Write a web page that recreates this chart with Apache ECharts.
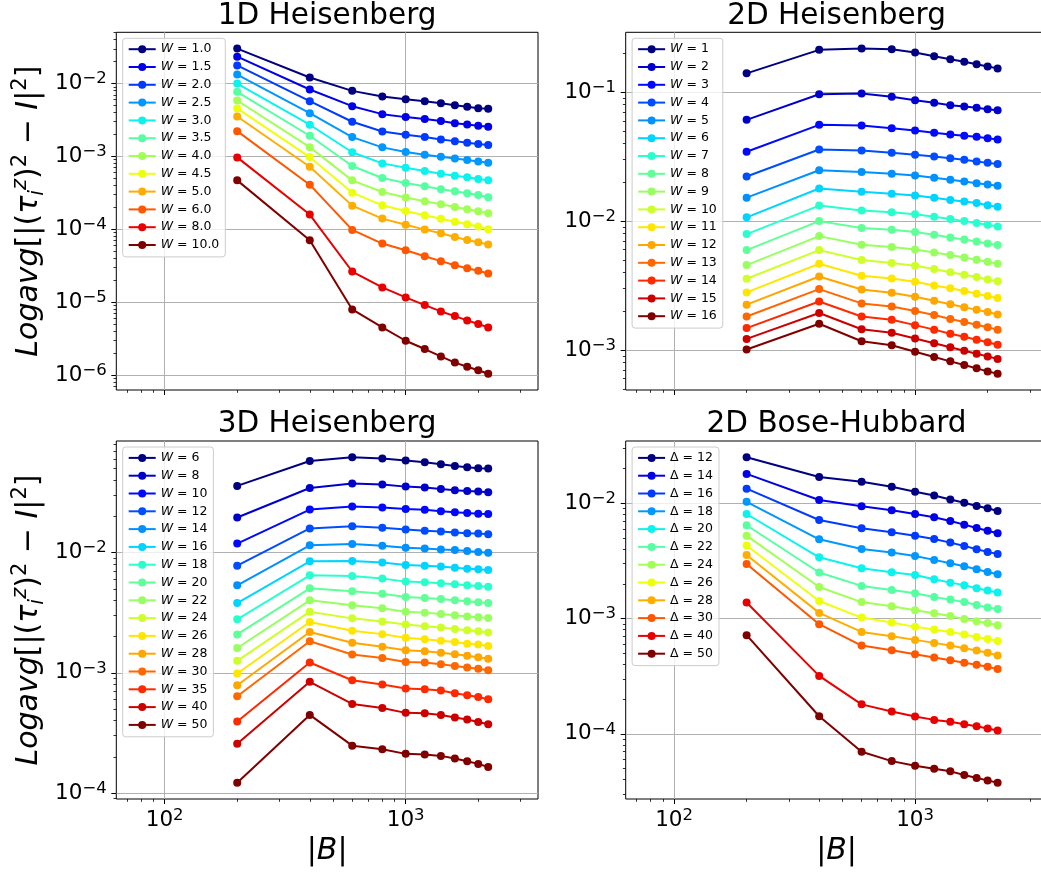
<!DOCTYPE html>
<html>
<head>
<meta charset="utf-8">
<script src="https://cdn.jsdelivr.net/npm/echarts@6/dist/echarts.min.js"></script>
<style>
  html, body { margin: 0; padding: 0; background: #fff; overflow: hidden; }
  #chart { width: 1060px; height: 872px; }
</style>
</head>
<body>
<div id="chart"></div>
<script>
// system sizes |B| (shared x values)
const sizes = [200, 400, 600, 800, 1000, 1200, 1400, 1600, 1800, 2000, 2200];

// 1D Heisenberg
const heis1dLabels = ['1.0', '1.5', '2.0', '2.5', '3.0', '3.5', '4.0', '4.5', '5.0', '6.0', '8.0', '10.0'];
const heis1dValues = [
  [3.02e-2, 1.21e-2, 7.93e-3, 6.64e-3, 6.10e-3, 5.73e-3, 5.38e-3, 5.05e-3, 4.79e-3, 4.59e-3, 4.50e-3],
  [2.34e-2, 8.28e-3, 4.89e-3, 3.80e-3, 3.46e-3, 3.25e-3, 3.05e-3, 2.86e-3, 2.74e-3, 2.63e-3, 2.55e-3],
  [1.77e-2, 5.73e-3, 2.99e-3, 2.20e-3, 1.98e-3, 1.84e-3, 1.71e-3, 1.62e-3, 1.54e-3, 1.48e-3, 1.43e-3],
  [1.33e-2, 3.92e-3, 1.84e-3, 1.33e-3, 1.15e-3, 1.05e-3, 9.89e-4, 9.39e-4, 8.91e-4, 8.54e-4, 8.19e-4],
  [1.00e-2, 2.72e-3, 1.14e-3, 8.02e-4, 7.00e-4, 6.30e-4, 5.79e-4, 5.43e-4, 5.16e-4, 4.89e-4, 4.69e-4],
  [7.69e-3, 1.92e-3, 7.37e-4, 5.05e-4, 4.31e-4, 3.88e-4, 3.53e-4, 3.32e-4, 3.11e-4, 2.95e-4, 2.75e-4],
  [5.85e-3, 1.34e-3, 4.69e-4, 3.25e-4, 2.72e-4, 2.42e-4, 2.20e-4, 2.02e-4, 1.88e-4, 1.77e-4, 1.66e-4],
  [4.55e-3, 9.79e-4, 3.18e-4, 2.13e-4, 1.78e-4, 1.56e-4, 1.39e-4, 1.27e-4, 1.17e-4, 1.09e-4, 1.00e-4],
  [3.53e-3, 7.22e-4, 2.11e-4, 1.40e-4, 1.15e-4, 9.89e-5, 8.82e-5, 7.85e-5, 7.14e-5, 6.64e-5, 6.17e-5],
  [2.22e-3, 4.09e-4, 9.79e-5, 6.36e-5, 5.16e-5, 4.27e-5, 3.65e-5, 3.21e-5, 2.92e-5, 2.69e-5, 2.47e-5],
  [9.69e-4, 1.59e-4, 2.63e-5, 1.59e-5, 1.16e-5, 9.10e-6, 7.45e-6, 6.43e-6, 5.61e-6, 5.00e-6, 4.50e-6],
  [4.69e-4, 7.07e-5, 7.93e-6, 4.50e-6, 2.95e-6, 2.27e-6, 1.80e-6, 1.48e-6, 1.30e-6, 1.16e-6, 1.04e-6]
];

// 2D Heisenberg
const heis2dLabels = ['1', '2', '3', '4', '5', '6', '7', '8', '9', '10', '11', '12', '13', '14', '15', '16'];
const heis2dValues = [
  [0.140, 0.213, 0.218, 0.215, 0.203, 0.190, 0.180, 0.172, 0.165, 0.158, 0.153],
  [6.10e-2, 9.65e-2, 9.76e-2, 9.20e-2, 8.67e-2, 8.27e-2, 7.93e-2, 7.74e-2, 7.56e-2, 7.38e-2, 7.25e-2],
  [3.45e-2, 5.58e-2, 5.51e-2, 5.26e-2, 5.04e-2, 4.84e-2, 4.70e-2, 4.59e-2, 4.51e-2, 4.40e-2, 4.30e-2],
  [2.22e-2, 3.59e-2, 3.53e-2, 3.39e-2, 3.27e-2, 3.17e-2, 3.08e-2, 2.99e-2, 2.90e-2, 2.83e-2, 2.77e-2],
  [1.52e-2, 2.48e-2, 2.40e-2, 2.33e-2, 2.26e-2, 2.17e-2, 2.09e-2, 2.03e-2, 1.97e-2, 1.92e-2, 1.88e-2],
  [1.07e-2, 1.79e-2, 1.69e-2, 1.63e-2, 1.58e-2, 1.52e-2, 1.46e-2, 1.42e-2, 1.38e-2, 1.33e-2, 1.29e-2],
  [7.93e-3, 1.32e-2, 1.21e-2, 1.17e-2, 1.13e-2, 1.08e-2, 1.04e-2, 1.00e-2, 9.65e-3, 9.37e-3, 9.09e-3],
  [5.96e-3, 1.00e-2, 8.83e-3, 8.57e-3, 8.22e-3, 7.84e-3, 7.47e-3, 7.21e-3, 6.96e-3, 6.71e-3, 6.52e-3],
  [4.56e-3, 7.65e-3, 6.55e-3, 6.29e-3, 6.03e-3, 5.71e-3, 5.45e-3, 5.23e-3, 5.02e-3, 4.84e-3, 4.67e-3],
  [3.57e-3, 5.96e-3, 4.99e-3, 4.73e-3, 4.51e-3, 4.25e-3, 4.02e-3, 3.84e-3, 3.68e-3, 3.53e-3, 3.41e-3],
  [2.80e-3, 4.67e-3, 3.77e-3, 3.59e-3, 3.39e-3, 3.17e-3, 3.01e-3, 2.87e-3, 2.73e-3, 2.62e-3, 2.53e-3],
  [2.25e-3, 3.72e-3, 2.95e-3, 2.78e-3, 2.59e-3, 2.41e-3, 2.27e-3, 2.15e-3, 2.05e-3, 1.97e-3, 1.89e-3],
  [1.82e-3, 2.97e-3, 2.30e-3, 2.18e-3, 2.01e-3, 1.87e-3, 1.74e-3, 1.65e-3, 1.57e-3, 1.50e-3, 1.44e-3],
  [1.48e-3, 2.38e-3, 1.82e-3, 1.72e-3, 1.56e-3, 1.44e-3, 1.34e-3, 1.27e-3, 1.20e-3, 1.15e-3, 1.10e-3],
  [1.22e-3, 1.94e-3, 1.45e-3, 1.36e-3, 1.23e-3, 1.13e-3, 1.05e-3, 9.88e-4, 9.37e-4, 8.93e-4, 8.52e-4],
  [1.01e-3, 1.60e-3, 1.17e-3, 1.09e-3, 9.71e-4, 8.83e-4, 8.17e-4, 7.65e-4, 7.21e-4, 6.83e-4, 6.55e-4]
];

// 3D Heisenberg
const heis3dLabels = ['6', '8', '10', '12', '14', '16', '18', '20', '22', '24', '26', '28', '30', '35', '40', '50'];
const heis3dValues = [
  [3.59e-2, 5.79e-2, 6.21e-2, 6.06e-2, 5.83e-2, 5.65e-2, 5.43e-2, 5.26e-2, 5.13e-2, 5.03e-2, 5.00e-2],
  [1.96e-2, 3.45e-2, 3.75e-2, 3.68e-2, 3.54e-2, 3.48e-2, 3.39e-2, 3.30e-2, 3.26e-2, 3.22e-2, 3.18e-2],
  [1.19e-2, 2.28e-2, 2.42e-2, 2.37e-2, 2.31e-2, 2.27e-2, 2.21e-2, 2.17e-2, 2.14e-2, 2.11e-2, 2.10e-2],
  [7.79e-3, 1.59e-2, 1.66e-2, 1.61e-2, 1.56e-2, 1.52e-2, 1.50e-2, 1.47e-2, 1.45e-2, 1.44e-2, 1.42e-2],
  [5.35e-3, 1.15e-2, 1.18e-2, 1.14e-2, 1.10e-2, 1.08e-2, 1.06e-2, 1.05e-2, 1.03e-2, 1.01e-2, 1.00e-2],
  [3.81e-3, 8.47e-3, 8.52e-3, 8.26e-3, 7.90e-3, 7.79e-3, 7.65e-3, 7.50e-3, 7.36e-3, 7.27e-3, 7.17e-3],
  [2.79e-3, 6.48e-3, 6.39e-3, 6.08e-3, 5.74e-3, 5.66e-3, 5.56e-3, 5.45e-3, 5.35e-3, 5.28e-3, 5.21e-3],
  [2.09e-3, 5.05e-3, 4.77e-3, 4.56e-3, 4.28e-3, 4.20e-3, 4.12e-3, 4.01e-3, 3.94e-3, 3.86e-3, 3.81e-3],
  [1.61e-3, 4.01e-3, 3.65e-3, 3.44e-3, 3.23e-3, 3.17e-3, 3.09e-3, 3.01e-3, 2.95e-3, 2.90e-3, 2.86e-3],
  [1.26e-3, 3.23e-3, 2.84e-3, 2.67e-3, 2.52e-3, 2.44e-3, 2.38e-3, 2.32e-3, 2.26e-3, 2.22e-3, 2.17e-3],
  [9.87e-4, 2.65e-3, 2.24e-3, 2.10e-3, 1.96e-3, 1.90e-3, 1.85e-3, 1.81e-3, 1.75e-3, 1.72e-3, 1.67e-3],
  [7.90e-4, 2.19e-3, 1.78e-3, 1.65e-3, 1.54e-3, 1.51e-3, 1.47e-3, 1.43e-3, 1.39e-3, 1.35e-3, 1.31e-3],
  [6.39e-4, 1.83e-3, 1.42e-3, 1.33e-3, 1.23e-3, 1.22e-3, 1.18e-3, 1.14e-3, 1.11e-3, 1.08e-3, 1.05e-3],
  [3.94e-4, 1.22e-3, 8.69e-4, 8.00e-4, 7.41e-4, 7.31e-4, 7.13e-4, 6.77e-4, 6.52e-4, 6.31e-4, 6.04e-4],
  [2.57e-4, 8.42e-4, 5.52e-4, 5.11e-4, 4.65e-4, 4.62e-4, 4.47e-4, 4.25e-4, 4.09e-4, 3.91e-4, 3.74e-4],
  [1.22e-4, 4.47e-4, 2.48e-4, 2.32e-4, 2.12e-4, 2.09e-4, 2.04e-4, 1.94e-4, 1.84e-4, 1.75e-4, 1.65e-4]
];

// 2D Bose-Hubbard
const boseLabels = ['12', '14', '16', '18', '20', '22', '24', '26', '28', '30', '40', '50'];
const boseValues = [
  [2.51e-2, 1.69e-2, 1.54e-2, 1.39e-2, 1.26e-2, 1.17e-2, 1.08e-2, 1.01e-2, 9.48e-3, 9.05e-3, 8.58e-3],
  [1.80e-2, 1.07e-2, 9.42e-3, 8.70e-3, 8.08e-3, 7.56e-3, 7.03e-3, 6.53e-3, 6.11e-3, 5.79e-3, 5.49e-3],
  [1.34e-2, 7.17e-3, 6.07e-3, 5.60e-3, 5.24e-3, 4.91e-3, 4.56e-3, 4.27e-3, 3.99e-3, 3.79e-3, 3.64e-3],
  [1.03e-2, 4.87e-3, 4.02e-3, 3.74e-3, 3.49e-3, 3.23e-3, 3.02e-3, 2.84e-3, 2.68e-3, 2.54e-3, 2.42e-3],
  [8.08e-3, 3.40e-3, 2.73e-3, 2.52e-3, 2.39e-3, 2.19e-3, 2.05e-3, 1.95e-3, 1.83e-3, 1.75e-3, 1.68e-3],
  [6.45e-3, 2.51e-3, 1.92e-3, 1.77e-3, 1.66e-3, 1.54e-3, 1.46e-3, 1.39e-3, 1.31e-3, 1.25e-3, 1.21e-3],
  [5.24e-3, 1.88e-3, 1.39e-3, 1.28e-3, 1.18e-3, 1.11e-3, 1.05e-3, 9.93e-4, 9.48e-4, 9.17e-4, 8.75e-4],
  [4.30e-3, 1.42e-3, 1.02e-3, 9.23e-4, 8.47e-4, 8.03e-4, 7.66e-4, 7.26e-4, 6.93e-4, 6.66e-4, 6.40e-4],
  [3.56e-3, 1.12e-3, 7.66e-4, 7.03e-4, 6.53e-4, 6.15e-4, 5.83e-4, 5.53e-4, 5.28e-4, 5.04e-4, 4.78e-4],
  [2.98e-3, 8.93e-4, 5.83e-4, 5.31e-4, 4.91e-4, 4.59e-4, 4.35e-4, 4.13e-4, 3.97e-4, 3.81e-4, 3.64e-4],
  [1.38e-3, 3.18e-4, 1.80e-4, 1.56e-4, 1.41e-4, 1.32e-4, 1.27e-4, 1.21e-4, 1.16e-4, 1.11e-4, 1.07e-4],
  [7.17e-4, 1.42e-4, 6.98e-5, 5.79e-5, 5.28e-5, 4.97e-5, 4.72e-5, 4.38e-5, 4.13e-5, 3.94e-5, 3.76e-5]
];

const xMajorTicks = [100, 1000];
const xMinorTicks = [70, 80, 90, 200, 300, 400, 500, 600, 700, 800, 900, 2000, 3000];

const FONT = '"DejaVu Sans", sans-serif';
const X_MIN = 63, X_MAX = 3540;
const GRID_W = 421.7;

const panels = [
  { title: '1D Heisenberg', sym: 'W', labels: heis1dLabels, values: heis1dValues, left: 116.3, top: 32.3, height: 357.7, xLabels: false, yName: true },
  { title: '2D Heisenberg', sym: 'W', labels: heis2dLabels, values: heis2dValues, left: 625.7, top: 32.3, height: 357.7, xLabels: false, yName: false },
  { title: '3D Heisenberg', sym: 'W', labels: heis3dLabels, values: heis3dValues, left: 116.3, top: 441, height: 358, xLabels: true, yName: true },
  { title: '2D Bose-Hubbard', sym: 'Δ', labels: boseLabels, values: boseValues, left: 625.7, top: 441, height: 358, xLabels: true, yName: false }
];

// matplotlib "jet" colormap
function lerpStops(t, stops) {
  for (let i = 1; i < stops.length; i++) {
    if (t <= stops[i][0]) {
      const [t0, v0] = stops[i - 1], [t1, v1] = stops[i];
      return v0 + (v1 - v0) * (t - t0) / (t1 - t0);
    }
  }
  return stops[stops.length - 1][1];
}
function jet(t) {
  const r = lerpStops(t, [[0, 0], [0.35, 0], [0.66, 1], [0.89, 1], [1, 0.5]]);
  const g = lerpStops(t, [[0, 0], [0.125, 0], [0.375, 1], [0.64, 1], [0.91, 0], [1, 0]]);
  const b = lerpStops(t, [[0, 0.5], [0.11, 1], [0.34, 1], [0.65, 0], [1, 0]]);
  return `rgb(${Math.round(r * 255)},${Math.round(g * 255)},${Math.round(b * 255)})`;
}

function powLabel(value) {
  const e = Math.round(Math.log10(value));
  if (Math.abs(Math.log10(value) - e) > 1e-6) return '';
  return '{b|10}{s|' + (e < 0 ? '\u2212' + (-e) : e) + '}';
}

const tickRich = {
  b: { fontFamily: FONT, fontSize: 21.5, lineHeight: 26, color: '#000' },
  s: { fontFamily: FONT, fontSize: 16.5, lineHeight: 16, verticalAlign: 'top', color: '#000' }
};

const nameRich = {
  it: { fontFamily: FONT, fontStyle: 'italic', fontSize: 30, lineHeight: 38, color: '#000' },
  n: { fontFamily: FONT, fontSize: 30, lineHeight: 38, color: '#000' },
  sup: { fontFamily: FONT, fontSize: 21, lineHeight: 21, verticalAlign: 'top', color: '#000' },
  supi: { fontFamily: FONT, fontStyle: 'italic', fontSize: 21, lineHeight: 21, verticalAlign: 'top', color: '#000' },
  sub: { fontFamily: FONT, fontStyle: 'italic', fontSize: 21, lineHeight: 21, verticalAlign: 'bottom', color: '#000' }
};
const yNameText = '{it|Logavg}{n|[|(}{it|τ}{sub|i}{supi|z}{n|)}{sup|2}{n| − }{it|I}{n||}{sup|2}{n|]}';
const xNameText = '{n||}{it|B}{n||}';

function yRange(values) {
  const logs = values.flat().map(v => Math.log10(v));
  const lo = Math.min(...logs), hi = Math.max(...logs);
  const pad = (hi - lo) * 0.05;
  return [Math.pow(10, lo - pad), Math.pow(10, hi + pad)];
}
function decadeTicks(min, max, minor) {
  const out = [];
  for (let k = Math.floor(Math.log10(min)) - 1; k <= Math.ceil(Math.log10(max)); k++) {
    const mults = minor ? [2, 3, 4, 5, 6, 7, 8, 9] : [1];
    mults.forEach(m => {
      const v = m * Math.pow(10, k);
      if (v >= min && v <= max) out.push(v);
    });
  }
  return out;
}

const grid = [], xAxis = [], yAxis = [], series = [], legend = [], graphic = [];
const legendText = {};

panels.forEach((p, i) => {
  grid.push({
    left: p.left, top: p.top, width: GRID_W, height: p.height,
    show: true, borderColor: '#000', borderWidth: 1, backgroundColor: 'transparent'
  });

  xAxis.push({
    type: 'log', gridIndex: i, position: 'bottom', min: X_MIN, max: X_MAX,
    axisLine: { show: false },
    axisTick: { show: true, length: 5, lineStyle: { color: '#000', width: 1 }, customValues: xMajorTicks },
    axisLabel: { show: p.xLabels, customValues: xMajorTicks, formatter: powLabel, rich: tickRich, margin: 8 },
    splitLine: { show: true, lineStyle: { color: '#b0b0b0', width: 1 } },
    name: p.xLabels ? xNameText : '', nameLocation: 'middle', nameGap: 33,
    nameTextStyle: { rich: nameRich }
  });
  xAxis.push({
    type: 'log', gridIndex: i, position: 'bottom', min: X_MIN, max: X_MAX,
    axisLine: { show: false },
    axisTick: { show: true, length: 2.8, lineStyle: { color: '#000', width: 0.8 }, customValues: xMinorTicks },
    axisLabel: { show: false },
    splitLine: { show: false }
  });

  const [yMin, yMax] = yRange(p.values);
  yAxis.push({
    type: 'log', gridIndex: i, position: 'left', min: yMin, max: yMax,
    axisLine: { show: false },
    axisTick: { show: true, length: 5, lineStyle: { color: '#000', width: 1 }, customValues: decadeTicks(yMin, yMax, false) },
    axisLabel: { show: true, customValues: decadeTicks(yMin, yMax, false), formatter: powLabel, rich: tickRich, margin: 9.6 },
    splitLine: { show: true, lineStyle: { color: '#b0b0b0', width: 1 } },
    name: p.yName ? yNameText : '', nameLocation: 'middle', nameRotate: 90, nameGap: 68,
    nameTextStyle: { rich: nameRich }
  });
  yAxis.push({
    type: 'log', gridIndex: i, position: 'left', min: yMin, max: yMax,
    axisLine: { show: false },
    axisTick: { show: true, length: 2.8, lineStyle: { color: '#000', width: 0.8 }, customValues: decadeTicks(yMin, yMax, true) },
    axisLabel: { show: false },
    splitLine: { show: false }
  });

  const names = [];
  p.values.forEach((vals, j) => {
    const name = `p${i}s${j}`;
    names.push(name);
    legendText[name] = (p.sym === 'W' ? '{i|W}' : 'Δ') + ' = ' + p.labels[j];
    const color = jet(p.values.length > 1 ? j / (p.values.length - 1) : 0);
    series.push({
      type: 'line', name,
      xAxisIndex: 2 * i, yAxisIndex: 2 * i,
      data: sizes.map((x, k) => [x, vals[k]]),
      symbol: 'circle', symbolSize: 8,
      lineStyle: { width: 2, color },
      itemStyle: { color },
      emphasis: { disabled: true },
      animation: false
    });
  });

  legend.push({
    data: names, orient: 'vertical',
    left: p.left + 6.4, top: p.top + 6,
    itemWidth: 27, itemHeight: 10, itemGap: 0,
    padding: [2, 6, 3, 5],
    backgroundColor: 'rgba(255,255,255,0.8)',
    borderColor: '#cccccc', borderWidth: 1, borderRadius: 3,
    selectedMode: false,
    formatter: name => legendText[name],
    textStyle: {
      fontFamily: FONT, fontSize: 12.5, lineHeight: 17.8, color: '#000',
      rich: { i: { fontFamily: FONT, fontStyle: 'italic', fontSize: 12.5, lineHeight: 17.8, color: '#000' } }
    }
  });

  graphic.push({
    type: 'text', x: p.left + GRID_W / 2, y: p.top - 16.2,
    style: { text: p.title, font: '29.5px ' + FONT, fill: '#000', textAlign: 'center', verticalAlign: 'middle' }
  });
});

const chart = echarts.init(document.getElementById('chart'), null, { renderer: 'canvas' });
chart.setOption({
  animation: false,
  backgroundColor: '#fff',
  grid, xAxis, yAxis, series, legend, graphic
});
</script>
</body>
</html>
